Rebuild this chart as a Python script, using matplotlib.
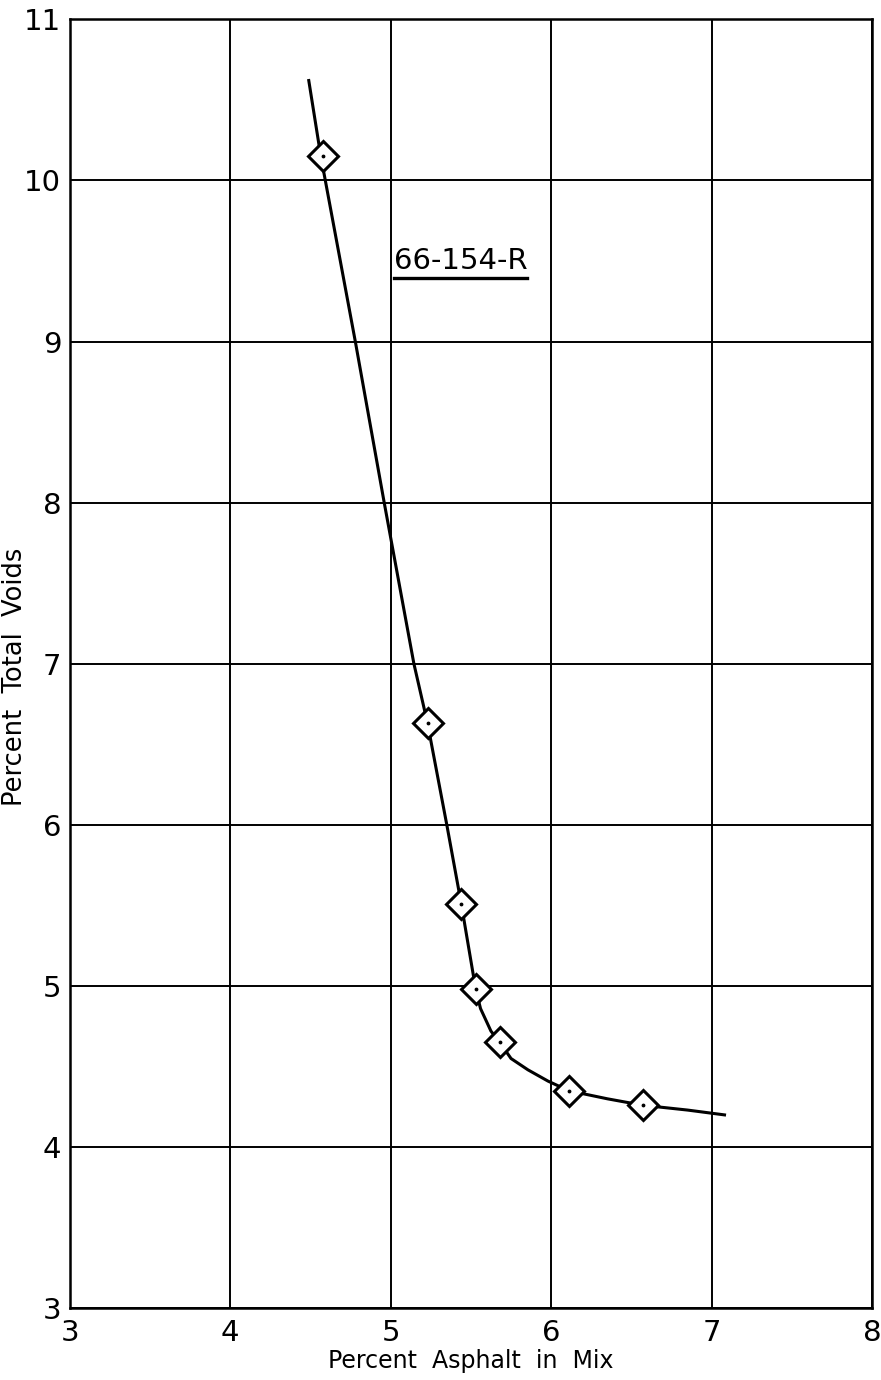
import matplotlib
matplotlib.use("Agg")
import matplotlib.pyplot as plt
from matplotlib.lines import Line2D

# measured points (diamonds)
asphalt = [4.58, 5.23, 5.44, 5.53, 5.68, 6.11, 6.57]
voids = [10.15, 6.63, 5.51, 4.98, 4.65, 4.35, 4.26]

# hand-drawn fitted curve
curve_x = [4.49, 4.565, 4.78, 4.96, 5.145, 5.23, 5.35, 5.44, 5.53, 5.56, 5.625, 5.68,
           5.75, 5.855, 5.98, 6.11, 6.35, 6.57, 6.85, 7.08]
curve_y = [10.62, 10.15, 9.0, 8.0, 7.0, 6.63, 6.0, 5.51, 4.98, 4.86, 4.72, 4.65,
           4.55, 4.48, 4.41, 4.35, 4.30, 4.26, 4.23, 4.20]

xticks = [3, 4, 5, 6, 7, 8]
yticks = [3, 4, 5, 6, 7, 8, 9, 10, 11]
label = "66-154-R"

plt.rcParams['font.family'] = ['DejaVu Sans']
fig = plt.figure(figsize=(8.81, 13.8), dpi=100)
ax = fig.add_axes([0.079, 0.052, 0.911, 0.934])

ax.plot(curve_x, curve_y, color='black', lw=2.2, zorder=3, solid_joinstyle='round')
ax.plot(asphalt, voids, linestyle='none', marker='D', ms=15, mfc='white',
        mec='black', mew=2.2, zorder=4)
ax.plot(asphalt, voids, linestyle='none', marker='.', ms=3.5, color='black', zorder=5)

ax.set_xlim(3, 8)
ax.set_ylim(3, 11)
ax.set_xticks(xticks)
ax.set_yticks(yticks)
ax.grid(True, color='black', lw=1.4)
ax.tick_params(length=0, labelsize=21, pad=6)
ax.tick_params(axis='x', pad=8)
for s in ax.spines.values():
    s.set_linewidth(1.8)

ax.set_xlabel("Percent  Asphalt  in  Mix", fontsize=17, labelpad=1)
ax.set_ylabel("Percent  Total  Voids", fontsize=18.5)
ax.yaxis.set_label_coords(-0.052, 0.49)

txt = ax.text(5.02, 9.50, label, fontsize=21, ha='left', va='center', zorder=5)

# underline the sample id
fig.canvas.draw()
bb = txt.get_window_extent()
inv = fig.transFigure.inverted()
x0, y0 = inv.transform((bb.x0, bb.y0 - 3))
x1, _ = inv.transform((bb.x1, bb.y0 - 3))
fig.add_artist(Line2D([x0, x1], [y0, y0], color='black', lw=2.4, transform=fig.transFigure))

fig.savefig("out.png", dpi=100)
